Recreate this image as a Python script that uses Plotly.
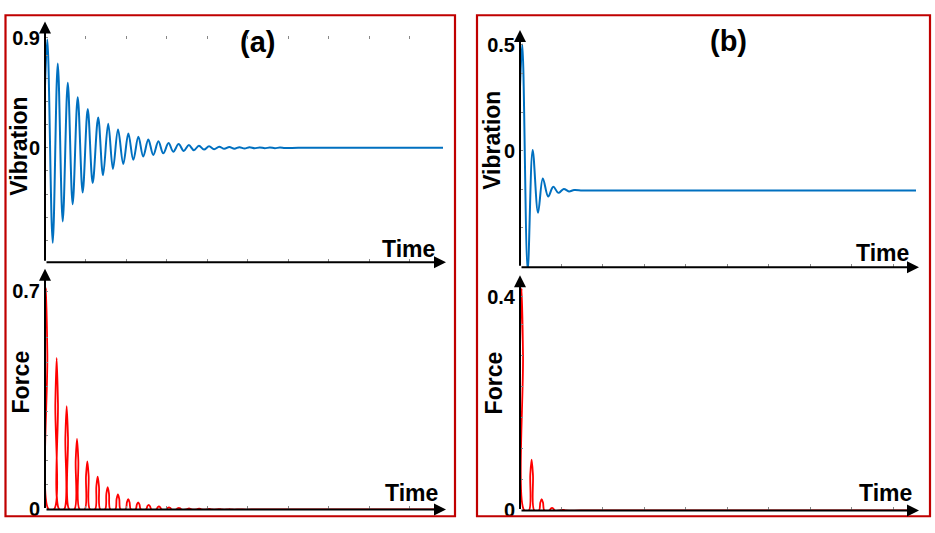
import plotly.graph_objects as go

# ---------------- data ----------------
# (a) vibration: extremum times (periods) and values
VIB_A_T = [0.0, 0.23, 0.76, 1.26, 1.75, 2.25, 2.73, 3.23, 3.72, 4.22, 4.71, 5.25, 5.73,
           6.24, 6.71, 7.21, 7.73, 8.23, 8.72, 9.22, 9.7, 10.2, 10.69, 11.2, 11.68,
           12.2, 12.67, 13.2, 13.7, 14.2, 14.7, 15.2, 15.7, 16.2, 16.7, 17.2, 17.7,
           18.2, 18.7, 19.2, 19.7, 20.2, 20.7, 21.2, 21.7, 22.2, 22.7, 23.2, 23.7,
           25.0, 28.0, 31.0, 34.0, 37.0, 39.3]
VIB_A_V = [0.5, 0.887, -0.777, 0.690, -0.602, 0.532, -0.461, 0.414, -0.365, 0.317, -0.287,
           0.249, -0.224, 0.197, -0.172, 0.150, -0.131, 0.118, -0.098, 0.091, -0.071,
           0.068, -0.058, 0.054, -0.045, 0.039, -0.031, 0.031, -0.025, 0.023, -0.019,
           0.017, -0.014, 0.013, -0.011, 0.010, -0.008, 0.0075, -0.0065, 0.0058, -0.005,
           0.0045, -0.0038, 0.0034, -0.003, 0.0026, -0.0022, 0.002, -0.0017,
           0.0, 0.0, 0.0, 0.0, 0.0, 0.0]

# (a) force: pulse peak times and heights
FORCE_A_START = 0.55
FORCE_A_PEAK_T = [0.1, 1.15, 2.14, 3.16, 4.18, 5.2, 6.19, 7.2, 8.22, 9.2, 10.24, 11.25,
                  12.24, 13.22, 14.22, 15.22, 16.22, 17.22, 18.22, 19.22]
FORCE_A_PEAK_V = [0.71, 0.486, 0.331, 0.226, 0.154, 0.105, 0.072, 0.048, 0.033, 0.0225,
                  0.015, 0.010, 0.007, 0.005, 0.0035, 0.0024, 0.0016, 0.0011, 0.0008, 0.0005]
FORCE_A_END_T = 39.3

# (b) vibration
VIB_B_T = [0.0, 0.22, 0.74, 1.22, 1.74, 2.2, 2.72, 3.21, 3.7, 4.22, 4.72, 5.22,
           6.0, 7.0, 9.0, 12.0, 16.0, 20.0, 25.0, 30.0, 35.0, 38.2]
VIB_B_V = [0.3, 0.5, -0.56, 0.005, -0.29, -0.129, -0.214, -0.168, -0.197, -0.179, -0.19,
           -0.184, -0.186, -0.186, -0.186, -0.186, -0.186, -0.186, -0.186, -0.186,
           -0.186, -0.186]

# (b) force
FORCE_B_START = 0.3
FORCE_B_PEAK_T = [0.16, 1.12, 2.09, 3.09, 4.1]
FORCE_B_PEAK_V = [0.416, 0.095, 0.021, 0.005, 0.0012]
FORCE_B_END_T = 38.2

# pulse outline: base half width (periods) and
# relative height at half of that half width
PULSE_HALF_WIDTH = 0.26
PULSE_SHOULDER = 0.7

# axis ticks
X_TICKS = [4, 8, 12, 16, 20, 24, 28, 32, 36]
YT_A_TOP = [-0.756, -0.567, -0.378, -0.189, 0, 0.189, 0.378, 0.567, 0.756, 0.9]
YL_A_TOP = ['', '', '', '', '0', '', '', '', '', '0.9']
YT_A_BOT = [0, 0.079, 0.157, 0.236, 0.315, 0.394, 0.472, 0.551, 0.7]
YL_A_BOT = ['0', '', '', '', '', '', '', '', '0.7']
YT_B_TOP = [-0.362, -0.181, 0, 0.181, 0.362, 0.5]
YL_B_TOP = ['', '', '0', '', '', '0.5']
YT_B_BOT = [0, 0.058, 0.116, 0.174, 0.232, 0.29, 0.348, 0.4]
YL_B_BOT = ['0', '', '', '', '', '', '', '0.4']

BLUE = '#0070C0'
RED = '#FF0000'
FRAME = '#C00000'
FONT = 'Liberation Sans, Arial, sans-serif'


def pulses(start_v, peak_t, peak_v, end_t):
    xs, ys = [0.0], [start_v]
    hw = PULSE_HALF_WIDTH
    for tp, vp in zip(peak_t, peak_v):
        if tp - hw > 0:
            xs += [tp - hw, tp - hw / 2]
            ys += [0.0, vp * PULSE_SHOULDER]
        xs += [tp, tp + hw / 2, tp + hw]
        ys += [vp, vp * PULSE_SHOULDER, 0.0]
    last = xs[-1]
    for t in (last + 1.5, last + 4, end_t):
        if t <= end_t:
            xs.append(t); ys.append(0.0)
    return xs, ys


fa_x, fa_y = pulses(FORCE_A_START, FORCE_A_PEAK_T, FORCE_A_PEAK_V, FORCE_A_END_T)
fb_x, fb_y = pulses(FORCE_B_START, FORCE_B_PEAK_T, FORCE_B_PEAK_V, FORCE_B_END_T)

W, H = 935, 533


def px(x):
    return x / W


def py(y):
    return 1 - y / H


fig = go.Figure()
fig.add_trace(go.Scatter(x=VIB_A_T, y=VIB_A_V, mode='lines', xaxis='x', yaxis='y',
                         line=dict(color=BLUE, width=2, shape='spline'), showlegend=False))
fig.add_trace(go.Scatter(x=fa_x, y=fa_y, mode='lines', xaxis='x2', yaxis='y2',
                         line=dict(color=RED, width=1.8, shape='spline'), showlegend=False))
fig.add_trace(go.Scatter(x=VIB_B_T, y=VIB_B_V, mode='lines', xaxis='x3', yaxis='y3',
                         line=dict(color=BLUE, width=2, shape='spline'), showlegend=False))
fig.add_trace(go.Scatter(x=fb_x, y=fb_y, mode='lines', xaxis='x4', yaxis='y4',
                         line=dict(color=RED, width=1.8, shape='spline'), showlegend=False))

tickfont = dict(family=FONT, size=20, color='black', weight='bold')


def xax(dom, rng, anchor, mirror=False):
    d = dict(domain=dom, range=rng, anchor=anchor, showgrid=False, zeroline=False,
             showline=False, tickvals=X_TICKS, ticks='inside', ticklen=3,
             tickcolor='#888', tickwidth=1, showticklabels=False, fixedrange=True)
    if mirror:
        d.update(showline=True, linecolor='rgba(0,0,0,0)', mirror='ticks')
    return d


def yax(dom, rng, anchor, tv, tt):
    return dict(domain=dom, range=rng, anchor=anchor, showgrid=False, zeroline=False,
                showline=False, tickvals=tv, ticktext=tt, ticks='inside', ticklen=3,
                tickcolor='#888', tickwidth=1, tickfont=tickfont, fixedrange=True,
                ticklabelstandoff=4)


XA = [px(45), px(443)]
XB = [px(520), px(916)]
fig.update_layout(
    width=W, height=H, margin=dict(l=0, r=0, t=0, b=0),
    paper_bgcolor='white', plot_bgcolor='white', showlegend=False,
    xaxis=xax(XA, [0, 39.3], 'y', mirror=True),
    yaxis=yax([py(263), py(27.7)], [-0.935, 0.918], 'x', YT_A_TOP, YL_A_TOP),
    xaxis2=xax(XA, [0, 39.3], 'y2'),
    yaxis2=yax([py(520), py(285)], [0, 0.725], 'x2', YT_A_BOT, YL_A_BOT),
    xaxis3=xax(XB, [0, 38.2], 'y3'),
    yaxis3=yax([py(268.3), py(32)], [-0.5466, 0.5226], 'x3', YT_B_TOP, YL_B_TOP),
    xaxis4=xax(XB, [0, 38.2], 'y4'),
    yaxis4=yax([py(521), py(288)], [0, 0.42], 'x4', YT_B_BOT, YL_B_BOT),
)

# axis arrows (domain coordinates)
arrows = [('x', 'y', 1.0075, 1.0625), ('x2', 'y2', 1.0075, 1.064),
          ('x3', 'y3', 1.0076, 1.0436), ('x4', 'y4', 1.0076, 1.0485)]
for xa, ya, xt, yt in arrows:
    for hx, hy in ((xt, 0), (0, yt)):
        fig.add_annotation(xref=f'{xa} domain', yref=f'{ya} domain', x=hx, y=hy,
                           axref=f'{xa} domain', ayref=f'{ya} domain', ax=0, ay=0,
                           text='', showarrow=True, arrowhead=2, arrowsize=1.2,
                           arrowwidth=2, arrowcolor='black', standoff=0)

# texts
bold = dict(family=FONT, color='black', weight='bold')
labels = [
    ('(a)', 257, 34, 29, 0), ('(b)', 728, 33, 29, 0),
    ('Vibration', 19, 143, 23, -90), ('Force', 21, 388, 23, -90),
    ('Vibration', 492, 137, 23, -90), ('Force', 494, 389, 23, -90),
    ('Time', 408, 249, 23, 0), ('Time', 411, 503, 23, 0),
    ('Time', 882, 254, 23, 0), ('Time', 885, 503, 23, 0),
]
for txt, x, y, s, ang in labels:
    fig.add_annotation(xref='paper', yref='paper', x=px(x), y=py(y), text=txt,
                       showarrow=False, textangle=ang, xanchor='center', yanchor='middle',
                       font=dict(size=s, **bold))

# red frames
for x0, x1 in ((5.5, 455), (477, 930)):
    fig.add_shape(type='rect', xref='paper', yref='paper', x0=px(x0), x1=px(x1),
                  y0=py(527), y1=py(6.5), line=dict(color=FRAME, width=2.2))

fig.write_html(
    'out.html',
    config={'displayModeBar': False, 'staticPlot': True},
    post_script=(
        "document.documentElement.style.margin='0';"
        "document.body.style.margin='0';document.body.style.padding='0';"
        "document.documentElement.style.overflow='hidden';"
        "var gd=document.getElementById('{plot_id}');"
        "gd.style.position='fixed';gd.style.left='0px';gd.style.top='0px';"
    ),
)
